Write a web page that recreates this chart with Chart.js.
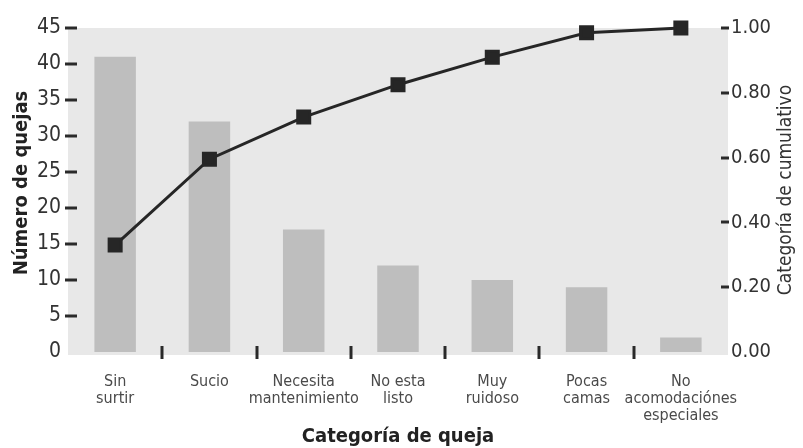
<!DOCTYPE html>
<html><head><meta charset="utf-8">
<script src="https://cdn.jsdelivr.net/npm/chart.js@4.4.1/dist/chart.umd.min.js"></script>
<style>html,body{margin:0;padding:0;background:#fff}#wrap{width:803px;height:448px}</style>
</head><body><div id="wrap"><canvas id="c" width="803" height="448"></canvas></div>
<script>
const categories = [["Sin","surtir"],["Sucio"],["Necesita","mantenimiento"],["No esta","listo"],["Muy","ruidoso"],["Pocas","camas"],["No","acomodaciónes","especiales"]];
const quejas = [41, 32, 17, 12, 10, 9, 2];
const cumulativo = [0.33, 0.595, 0.725, 0.825, 0.91, 0.985, 1.0];
const leftTicks = [0,5,10,15,20,25,30,35,40,45];
const rightTicks = [0,0.2,0.4,0.6,0.8,1.0];
const leftTitle = "Número de quejas";
const rightTitle = "Categoría de cumulativo";
const xTitle = "Categoría de queja";

const FONT = "'Liberation Sans Narrow','DejaVu Sans Condensed',sans-serif";

const deco = {
  id: 'deco',
  beforeDraw(chart) {
    const {ctx, chartArea: a} = chart;
    ctx.save();
    ctx.fillStyle = '#e8e8e8';
    ctx.fillRect(a.left, a.top, a.right - a.left, a.bottom - a.top + 3);
    ctx.restore();
  },
  afterDraw(chart) {
    const {ctx, chartArea: a, scales} = chart;
    ctx.save();
    ctx.strokeStyle = '#2a2a2a';
    ctx.lineWidth = 3;
    leftTicks.forEach(v => {
      if (v === 0) return;
      const y = Math.round(scales.y.getPixelForValue(v));
      ctx.beginPath(); ctx.moveTo(a.left - 3, y); ctx.lineTo(a.left + 9, y); ctx.stroke();
    });
    rightTicks.forEach(v => {
      if (v === 0) return;
      const y = Math.round(scales.y1.getPixelForValue(v));
      ctx.beginPath(); ctx.moveTo(a.right - 7, y); ctx.lineTo(a.right + 1, y); ctx.stroke();
    });
    for (let i = 0; i < categories.length - 1; i++) {
      const x = Math.round((scales.x.getPixelForValue(i) + scales.x.getPixelForValue(i + 1)) / 2);
      ctx.beginPath(); ctx.moveTo(x, a.bottom - 6); ctx.lineTo(x, a.bottom + 7); ctx.stroke();
    }
    ctx.textAlign = 'center';
    ctx.textBaseline = 'middle';
    ctx.save();
    ctx.translate(786, 190);
    ctx.rotate(-Math.PI / 2);
    ctx.fillStyle = '#333';
    ctx.font = "19px " + FONT;
    ctx.fillText(rightTitle, 0, 0);
    ctx.restore();
    ctx.save();
    ctx.translate(22, 183);
    ctx.rotate(-Math.PI / 2);
    ctx.fillStyle = '#222';
    ctx.font = "bold 20px " + FONT;
    ctx.fillText(leftTitle, 0, 0);
    ctx.restore();
    ctx.restore();
  }
};

new Chart(document.getElementById('c'), {
  data: {
    labels: categories,
    datasets: [
      {
        type: 'line', data: cumulativo, yAxisID: 'y1', order: 0,
        borderColor: '#262626', borderWidth: 3, backgroundColor: '#262626',
        pointStyle: 'rect', pointRadius: 8.5, pointHoverRadius: 8.5,
        tension: 0, clip: false
      },
      {
        type: 'bar', data: quejas, yAxisID: 'y', order: 1,
        backgroundColor: '#bebebe', barPercentage: 0.44, categoryPercentage: 1
      }
    ]
  },
  plugins: [deco],
  options: {
    responsive: false, animation: false,
    layout: { padding: { top: 28, left: 0, right: 0, bottom: 0 } },
    plugins: { legend: { display: false }, tooltip: { enabled: false } },
    scales: {
      x: {
        offset: true,
        grid: { display: false, drawTicks: false },
        border: { display: false },
        ticks: { color: '#4a4a4a', font: { family: FONT, size: 16, lineHeight: 1.06 }, padding: 21, maxRotation: 0, autoSkip: false },
        title: { display: true, text: xTitle, color: '#222', font: { family: FONT, size: 20, weight: 'bold', lineHeight: 1 }, padding: { top: 0, bottom: 1 } },
        afterFit(s) { s.height = 96; }
      },
      y: {
        position: 'left', min: 0, max: 45,
        afterBuildTicks(s) { s.ticks = leftTicks.map(v => ({ value: v })); },
        grid: { display: false, drawTicks: false },
        border: { display: false },
        ticks: { color: '#333', font: { family: FONT, size: 21 }, padding: 7 },
        afterFit(s) { s.width = 68; }
      },
      y1: {
        position: 'right', min: 0, max: 1,
        afterBuildTicks(s) { s.ticks = rightTicks.map(v => ({ value: v })); },
        grid: { display: false, drawTicks: false },
        border: { display: false },
        ticks: { color: '#333', font: { family: FONT, size: 20 }, padding: 3, callback: v => Number(v).toFixed(2) },
        afterFit(s) { s.width = 75; }
      }
    }
  }
});
</script></body></html>
